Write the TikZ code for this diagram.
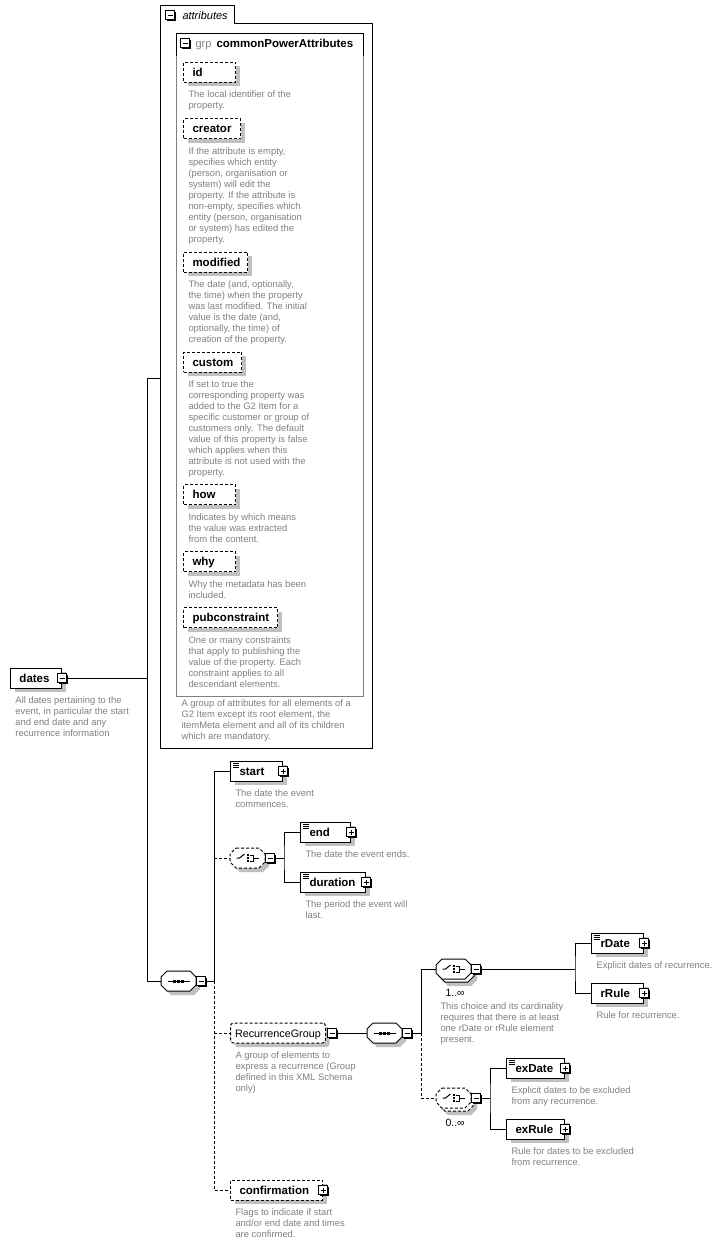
\documentclass[tikz,border=0pt]{standalone}
\usepackage{fontspec}
\setmainfont{Liberation Sans}
\usetikzlibrary{positioning, shadows}

\definecolor{descgray}{RGB}{128,128,128}
\definecolor{shadegray}{RGB}{192,192,192}
\newcommand{\lblfont}{\fontsize{11.5}{13}\selectfont\bfseries}
\newcommand{\descfont}{\fontsize{9.4}{11}\selectfont}
\newcommand{\octpath}{(-11.5,-10) -- (11.5,-10) -- (17.5,-4) -- (17.5,4) -- (11.5,10) -- (-11.5,10) -- (-17.5,4) -- (-17.5,-4) -- cycle}

\tikzset{
    boxshadow/.style={drop shadow={shadow xshift=4pt, shadow yshift=-4pt, fill=shadegray, opacity=1}},
    elem/.style={rectangle, draw, fill=white, line width=1pt, minimum height=20pt, inner xsep=9pt, inner ysep=0pt, text width=#1, text height=10pt, text depth=1.8pt, align=left, font=\lblfont, boxshadow},
    optelem/.style={elem=#1, dash pattern=on 3pt off 2pt},
    marked/.style={path picture={
        \foreach \dy in {2.5,4.5,6.5}
            \draw[solid, black, line width=0.8pt] ([shift={(2pt,-\dy pt)}]path picture bounding box.north west) -- ++(6pt,0pt);
    }},
    desc/.style={inner sep=0pt, align=left, font=\descfont, text=descgray},
    card/.style={anchor=base west, inner sep=0pt, font=\fontsize{10.5}{12}\selectfont},
    btn/.style={rectangle, draw, fill=white, line width=1pt, minimum size=9pt, inner sep=0pt, general shadow={fill=black, shadow xshift=1pt, shadow yshift=-1pt}},
    minusbtn/.style={btn, path picture={
        \draw[solid, black, line width=1pt] ([xshift=2pt]path picture bounding box.west) -- ([xshift=-2pt]path picture bounding box.east);}},
    plusbtn/.style={btn, path picture={
        \draw[solid, black, line width=1pt] ([xshift=2pt]path picture bounding box.west) -- ([xshift=-2pt]path picture bounding box.east)
            ([yshift=2pt]path picture bounding box.south) -- ([yshift=-2pt]path picture bounding box.north);}},
    dashline/.style={dash pattern=on 3pt off 2pt},
    % compositor outlines
    compoline/.style={},
    compostack/.style={opacity=0},
    composhadow/.style={shift={(4,4)}},
    optional/.style={compoline/.style={dashline}},
    stacked/.style={compostack/.style={draw, fill=white}, composhadow/.style={shift={(6,7)}}},
    seqpic/.pic={
        \fill[shadegray, composhadow] \octpath;
        \path[shift={(3,3)}, compostack] \octpath;
        \draw[fill=white, compoline] \octpath;
        \draw (-11,0) -- (11,0);
        \foreach \dx in {-4,0,4}
            \fill (\dx-1.5,-1.5) rectangle ++(3,3);
        \coordinate (-w) at (-17.5,0);
        \coordinate (-e) at (17.5,0);
    },
    choicepic/.pic={
        \fill[shadegray, composhadow] \octpath;
        \path[shift={(3,3)}, compostack, compoline] \octpath;
        \draw[fill=white, compoline] \octpath;
        \draw (-11,0) -- (-8,0) -- (-3,-4);
        \foreach \dy in {-3,0,3}
            \fill (-1,\dy-1) rectangle ++(2,2);
        \draw (2,-3) -- (6,-3) -- (6,3) -- (2,3) (6,0) -- (11,0);
        \coordinate (-w) at (-17.5,0);
        \coordinate (-e) at (17.5,0);
    }
}

\begin{document}
\begin{tikzpicture}[x=1pt, y=-1pt, line width=1pt]
    \useasboundingbox (0,0) rectangle (717,1245);

    % root element
    \node[elem=33pt, anchor=west] (dates) at (10,678) {dates};
    \node[minusbtn] (datespm) at (dates.east) {};
    \node[desc, below right=8pt and 5pt of dates.south west] (datesdesc) {All dates pertaining to the\\event, in particular the start\\and end date and any\\recurrence information};

    % attributes frame
    \draw (160,748) -- (160,5) -- (234,5) -- (234,23) -- (372,23) -- (372,748) -- cycle;
    \node[minusbtn] (attrpm) at (170,15) {};
    \node[anchor=base west, inner sep=0pt, font=\fontsize{11}{13}\selectfont\itshape] (attrtitle) at (182,19.5) {attributes};
    \coordinate (attrin) at (160,378);

    % attribute group
    \draw[descgray] (176,56) -- (176,696) -- (363,696) -- (363,56);
    \draw (176,56) -- (176,33) -- (363,33) -- (363,56);
    \coordinate (grpsw) at (176,696);
    \node[minusbtn] (grppm) at (185,43) {};
    \node[anchor=base west, inner sep=0pt, font=\fontsize{11}{13}\selectfont, text=descgray] (grptag) at (195,47.5) {grp};
    \node[anchor=base west, inner sep=0pt, font=\lblfont] (grpname) at (216,47.5) {commonPowerAttributes};

    \node[optelem=34pt, anchor=west] (id) at (183,72) {id};
    \node[desc, below right=8pt and 5pt of id.south west] (iddesc) {The local identifier of the\\property.};
    \node[optelem=39pt, anchor=west] (creator) at (183,128.5) {creator};
    \node[desc, below right=8pt and 5pt of creator.south west] (creatordesc) {If the attribute is empty,\\specifies which entity\\(person, organisation or\\system) will edit the\\property. If the attribute is\\non-empty, specifies which\\entity (person, organisation\\or system) has edited the\\property.};
    \node[optelem=46pt, anchor=west] (modified) at (183,262) {modified};
    \node[desc, below right=8pt and 5pt of modified.south west] (modifieddesc) {The date (and, optionally,\\the time) when the property\\was last modified. The initial\\value is the date (and,\\optionally, the time) of\\creation of the property.};
    \node[optelem=40pt, anchor=west] (custom) at (183,362) {custom};
    \node[desc, below right=8pt and 5pt of custom.south west] (customdesc) {If set to true the\\corresponding property was\\added to the G2 Item for a\\specific customer or group of\\customers only. The default\\value of this property is false\\which applies when this\\attribute is not used with the\\property.};
    \node[optelem=34pt, anchor=west] (how) at (183,494.5) {how};
    \node[desc, below right=8pt and 5pt of how.south west] (howdesc) {Indicates by which means\\the value was extracted\\from the content.};
    \node[optelem=34pt, anchor=west] (why) at (183,561.5) {why};
    \node[desc, below right=8pt and 5pt of why.south west] (whydesc) {Why the metadata has been\\included.};
    \node[optelem=76pt, anchor=west] (pubconstraint) at (183,617.5) {pubconstraint};
    \node[desc, below right=8pt and 5pt of pubconstraint.south west] (pubconstraintdesc) {One or many constraints\\that apply to publishing the\\value of the property. Each\\constraint applies to all\\descendant elements.};
    \node[desc, below right=3pt and 5pt of grpsw] (grpdesc) {A group of attributes for all elements of a\\G2 Item except its root element, the\\itemMeta element and all of its children\\which are mandatory.};

    % main sequence
    \coordinate (jtop) at (147,378);
    \coordinate (jbot) at (147,981);
    \pic (seqA) at (178.5,981) {seqpic};
    \node[minusbtn] (seqApm) at ([xshift=5pt]seqA-e) {};
    \draw (datespm.east) -- (datespm.east -| jtop);
    \draw (attrin) -- (jtop) -- (jbot) -- (seqA-w);

    \coordinate (busA) at (214,981);
    \node[elem=34pt, marked, anchor=west] (start) at (230,771) {start};
    \node[plusbtn] (startpm) at (start.east) {};
    \node[desc, below right=8pt and 5pt of start.south west] (startdesc) {The date the event\\commences.};

    % end or duration
    \pic[optional] (choA) at (247.5,858) {choicepic};
    \node[minusbtn] (choApm) at ([xshift=5pt]choA-e) {};
    \coordinate (busB) at (284,858);
    \node[elem=32pt, marked, anchor=west] (enddate) at (300,832) {end};
    \node[plusbtn] (enddatepm) at (enddate.east) {};
    \node[desc, below right=8pt and 5pt of enddate.south west] (enddatedesc) {The date the event ends.};
    \node[elem=47pt, marked, anchor=west] (duration) at (300,882) {duration};
    \node[plusbtn] (durationpm) at (duration.east) {};
    \node[desc, below right=8pt and 5pt of duration.south west] (durationdesc) {The period the event will\\last.};

    % recurrence
    \node[optelem=86pt, inner xsep=4.5pt, rounded corners=3pt, font=\fontsize{10.8}{13}\selectfont, anchor=west] (recgroup) at (230,1033) {RecurrenceGroup};
    \node[minusbtn] (recgrouppm) at ([xshift=6pt]recgroup.east) {};
    \node[desc, below right=8pt and 5pt of recgroup.south west] (recgroupdesc) {A group of elements to\\express a recurrence (Group\\defined in this XML Schema\\only)};

    \node[optelem=74pt, anchor=west] (confirm) at (230,1190) {confirmation};
    \node[plusbtn] (confirmpm) at (confirm.east) {};
    \node[desc, below right=8pt and 5pt of confirm.south west] (confirmdesc) {Flags to indicate if start\\and/or end date and times\\are confirmed.};

    \draw (seqApm.east) -- (busA) |- (start.west);
    \draw[dashline] (busA) |- (confirm.west);
    \draw[dashline] (busA |- choA-w) -- (choA-w);
    \draw[dashline] (busA |- recgroup.west) -- (recgroup.west);
    \draw (choApm.east) -- (busB);
    \draw (enddate.west) -| (busB) |- (duration.west);

    % recurrence sequence
    \pic (seqB) at (384.5,1033) {seqpic};
    \node[minusbtn] (seqBpm) at ([xshift=5pt]seqB-e) {};
    \draw (recgrouppm.east) -- (seqB-w);
    \coordinate (busC) at (421,1033);

    \pic[stacked] (choB) at (453.5,969) {choicepic};
    \node[minusbtn] (choBpm) at ([xshift=5pt]choB-e) {};
    \node[card] (choBcard) at (445,996) {1..∞};
    \node[desc, anchor=north west] (choBdesc) at (440,1002) {This choice and its cardinality\\requires that there is at least\\one rDate or rRule element\\present.};

    \pic[stacked, optional] (choC) at (453.5,1098) {choicepic};
    \node[minusbtn] (choCpm) at ([xshift=5pt]choC-e) {};
    \node[card] (choCcard) at (445,1126) {0..∞};

    \draw (seqBpm.east) -- (busC) |- (choB-w);
    \draw[dashline] (busC) |- (choC-w);

    % rDate or rRule
    \coordinate (busD) at (575,969);
    \node[elem=34pt, marked, anchor=west] (rdate) at (591,943) {rDate};
    \node[plusbtn] (rdatepm) at (rdate.east) {};
    \node[desc, below right=8pt and 5pt of rdate.south west] (rdatedesc) {Explicit dates of recurrence.};
    \node[elem=34pt, anchor=west] (rrule) at (591,993) {rRule};
    \node[plusbtn] (rrulepm) at (rrule.east) {};
    \node[desc, below right=8pt and 5pt of rrule.south west] (rruledesc) {Rule for recurrence.};
    \draw (choBpm.east) -- (busD);
    \draw (rdate.west) -| (busD) |- (rrule.west);

    % exclusions
    \coordinate (busE) at (490,1098);
    \node[elem=40pt, marked, anchor=west] (exdate) at (506,1068) {exDate};
    \node[plusbtn] (exdatepm) at (exdate.east) {};
    \node[desc, below right=8pt and 5pt of exdate.south west] (exdatedesc) {Explicit dates to be excluded\\from any recurrence.};
    \node[elem=40pt, anchor=west] (exrule) at (506,1129) {exRule};
    \node[plusbtn] (exrulepm) at (exrule.east) {};
    \node[desc, below right=8pt and 5pt of exrule.south west] (exruledesc) {Rule for dates to be excluded\\from recurrence.};
    \draw (choCpm.east) -- (busE);
    \draw (exdate.west) -| (busE) |- (exrule.west);
\end{tikzpicture}
\end{document}
